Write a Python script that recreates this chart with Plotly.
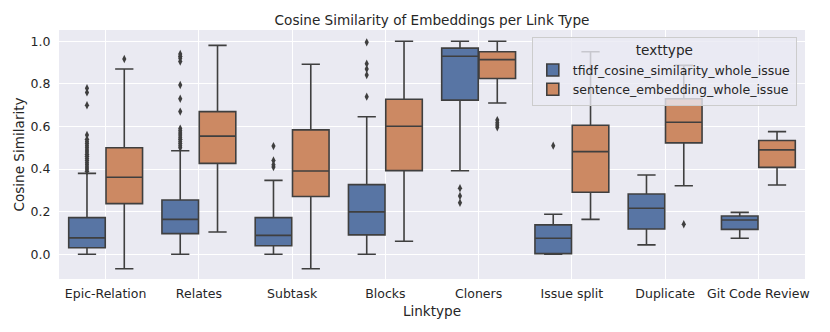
import plotly.graph_objects as go

categories = ["Epic-Relation", "Relates", "Subtask", "Blocks", "Cloners",
              "Issue split", "Duplicate", "Git Code Review"]

# tfidf_cosine_similarity_whole_issue
tfidf_lower = [0.0, 0.0, 0.0, 0.0, 0.392, 0.0, 0.044, 0.075]
tfidf_q1 = [0.031, 0.097, 0.040, 0.091, 0.724, 0.003, 0.119, 0.117]
tfidf_median = [0.077, 0.164, 0.089, 0.199, 0.930, 0.075, 0.216, 0.161]
tfidf_q3 = [0.172, 0.255, 0.172, 0.327, 0.968, 0.138, 0.283, 0.180]
tfidf_upper = [0.380, 0.486, 0.347, 0.646, 1.0, 0.188, 0.372, 0.197]
tfidf_outliers = [
    [0.39, 0.40, 0.41, 0.42, 0.43, 0.44, 0.45, 0.46, 0.47, 0.48, 0.49,
     0.50, 0.51, 0.52, 0.53, 0.54, 0.56, 0.70, 0.76, 0.78],
    [0.50, 0.51, 0.52, 0.53, 0.54, 0.55, 0.56, 0.57, 0.58, 0.59,
     0.67, 0.73, 0.795, 0.905, 0.92, 0.93, 0.94],
    [0.41, 0.42, 0.44, 0.508],
    [0.740, 0.842, 0.87, 0.895, 0.995],
    [0.242, 0.274, 0.31],
    [0.51],
    [],
    [],
]

# sentence_embedding_whole_issue
sent_lower = [-0.068, 0.105, -0.068, 0.061, 0.710, 0.164, 0.322, 0.325]
sent_q1 = [0.238, 0.427, 0.271, 0.393, 0.825, 0.291, 0.523, 0.408]
sent_median = [0.362, 0.555, 0.391, 0.601, 0.914, 0.482, 0.620, 0.490]
sent_q3 = [0.500, 0.670, 0.584, 0.728, 0.951, 0.606, 0.730, 0.534]
sent_upper = [0.870, 0.981, 0.892, 1.0, 1.0, 0.951, 0.887, 0.576]
sent_outliers = [
    [0.917],
    [],
    [],
    [],
    [0.596, 0.607, 0.618, 0.630],
    [],
    [0.594, 0.630, 0.141],
    [],
]

y_ticks = [0.0, 0.2, 0.4, 0.6, 0.8, 1.0]

series_names = ["tfidf_cosine_similarity_whole_issue", "sentence_embedding_whole_issue"]
fill_colors = ["#5875a4", "#cc8963"]
line_color = "#3f3f3f"
text_color = "#262626"
font_family = "DejaVu Sans"

fig = go.Figure()
for name, color, lo, q1, med, q3, up, outs in [
    (series_names[0], fill_colors[0], tfidf_lower, tfidf_q1, tfidf_median, tfidf_q3, tfidf_upper, tfidf_outliers),
    (series_names[1], fill_colors[1], sent_lower, sent_q1, sent_median, sent_q3, sent_upper, sent_outliers),
]:
    fig.add_trace(go.Box(
        name=name,
        x=categories,
        y=outs,
        q1=q1, median=med, q3=q3,
        lowerfence=lo, upperfence=up,
        boxpoints="outliers",
        jitter=0, pointpos=0,
        fillcolor=color,
        line=dict(color=line_color, width=1.6),
        whiskerwidth=0.5,
        marker=dict(symbol="diamond-tall", size=6, color=line_color,
                    outliercolor=line_color, line=dict(width=0)),
        hoverinfo="skip",
    ))

# The page body has an 8px margin, so the figure is sized to fit the window.
fig.update_layout(
    width=814, height=316,
    margin=dict(l=51, r=16.5, t=22, b=45),
    paper_bgcolor="white",
    plot_bgcolor="#eaeaf2",
    boxmode="group",
    boxgap=0.2,
    boxgroupgap=0.02,
    font=dict(family=font_family, color=text_color, size=12.5),
    title=dict(text="Cosine Similarity of Embeddings per Link Type",
               x=0.5, xref="paper", xanchor="center",
               y=1 - 12 / 316, yanchor="middle", yref="container",
               font=dict(size=13.6, color=text_color, family=font_family)),
    legend=dict(
        title=dict(text="texttype", side="top center",
                   font=dict(size=13.6, color=text_color)),
        x=0.989, xanchor="right", y=0.973, yanchor="top",
        bgcolor="rgba(234,234,242,0.8)",
        bordercolor="#cccccc", borderwidth=1,
        font=dict(size=12.5, color=text_color),
        tracegroupgap=2,
    ),
    showlegend=True,
)
fig.update_xaxes(
    type="category",
    categoryorder="array", categoryarray=categories,
    range=[-0.5, 7.5],
    automargin=False,
    showgrid=True, gridcolor="white", gridwidth=1,
    zeroline=False, showline=False,
    ticks="outside", ticklen=3, tickcolor="rgba(0,0,0,0)",
    tickfont=dict(size=12.5, color=text_color),
    title=dict(text="Linktype", font=dict(size=13.6, color=text_color), standoff=6),
)
fig.update_yaxes(
    range=[-0.116, 1.053],
    tickvals=y_ticks,
    tickformat=".1f",
    automargin=False,
    showgrid=True, gridcolor="white", gridwidth=1,
    zeroline=False, showline=False,
    ticks="outside", ticklen=5, tickcolor="rgba(0,0,0,0)",
    tickfont=dict(size=12.5, color=text_color),
    title=dict(text="Cosine Similarity", font=dict(size=13.6, color=text_color), standoff=2),
)

fig.write_html("out.html")
